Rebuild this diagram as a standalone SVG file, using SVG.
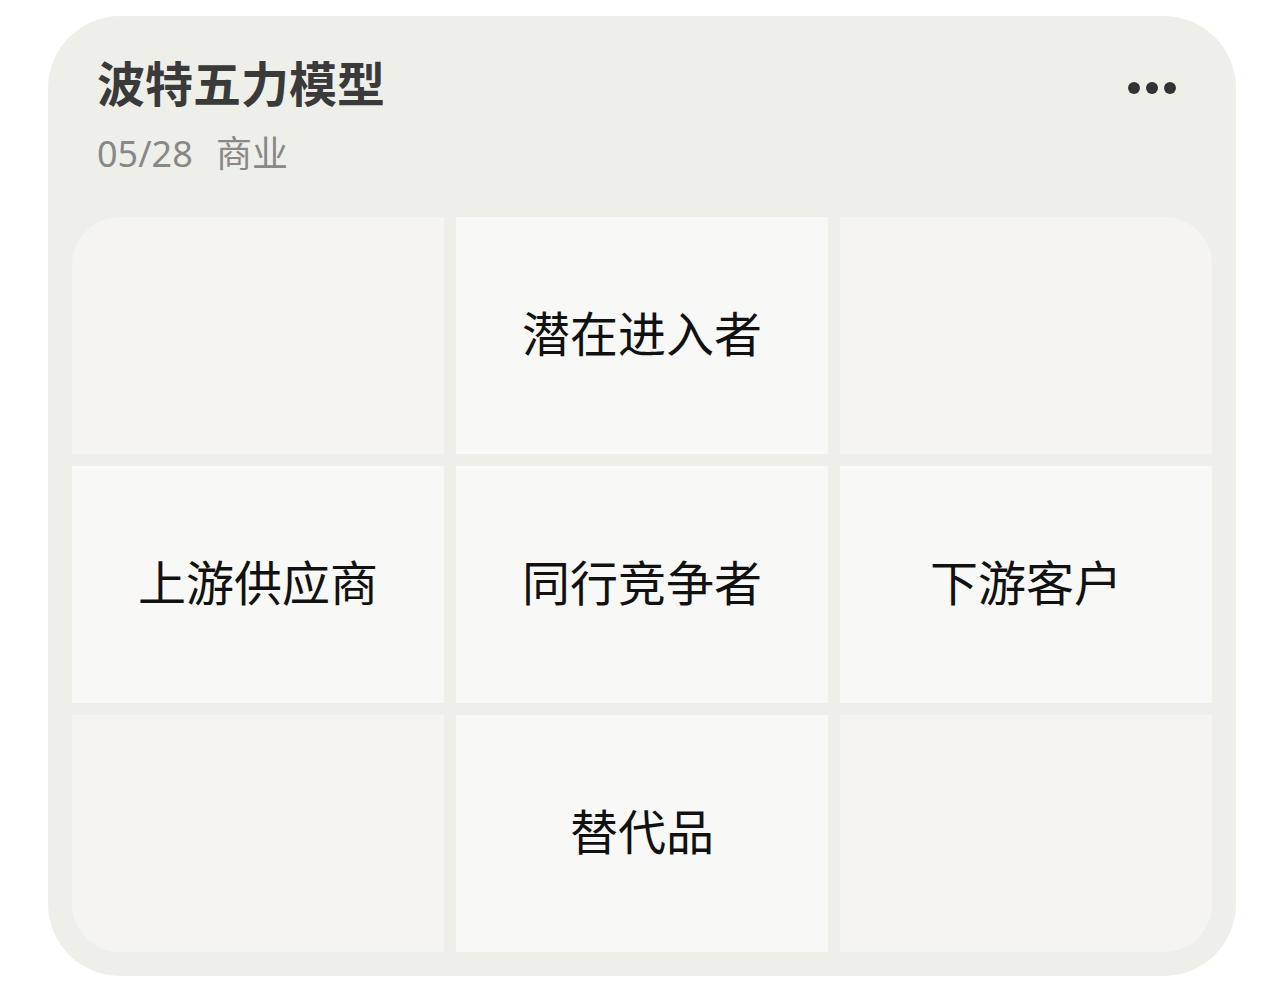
<svg xmlns="http://www.w3.org/2000/svg" width="1284" height="990" viewBox="0 0 1284 990">
<defs>
<style>
.corner{fill:#f5f4f0}
.cell{fill:#f8f8f6}
.lbl{font-family:"Noto Sans CJK SC","Noto Sans",sans-serif;font-size:48px;fill:#111;text-anchor:middle}
</style>
<clipPath id="gridclip"><rect x="72" y="217" width="1140" height="735" rx="48" ry="48"/></clipPath>
</defs>
<rect width="1284" height="990" fill="#ffffff"/>
<g id="card">
<rect x="48" y="16" width="1188" height="960" rx="72" ry="72" fill="#efefea"/>
<text x="97" y="102" font-family="'Noto Sans CJK SC','Noto Sans',sans-serif" font-size="48" font-weight="bold" fill="#3a3a3a">波特五力模型</text>
<text y="167" font-family="'Noto Sans','Noto Sans CJK SC',sans-serif" font-size="36" fill="#888888"><tspan x="97">05/28</tspan><tspan x="216">商业</tspan></text>
<g id="more" fill="#333333"><circle cx="1134" cy="88" r="6"/><circle cx="1152" cy="88" r="6"/><circle cx="1170" cy="88" r="6"/></g>
</g>
<g clip-path="url(#gridclip)">
<g id="c11"><rect class="corner" x="72" y="217" width="372" height="237"/></g>
<g id="c12"><rect class="cell" x="456" y="217" width="372" height="237"/><text class="lbl" x="642" y="352">潜在进入者</text></g>
<g id="c13"><rect class="corner" x="840" y="217" width="372" height="237"/></g>
<g id="c21"><rect class="cell" x="72" y="466" width="372" height="237"/><text class="lbl" x="258" y="601">上游供应商</text></g>
<g id="c22"><rect class="cell" x="456" y="466" width="372" height="237"/><text class="lbl" x="642" y="601">同行竞争者</text></g>
<g id="c23"><rect class="cell" x="840" y="466" width="372" height="237"/><text class="lbl" x="1026" y="601">下游客户</text></g>
<g id="c31"><rect class="corner" x="72" y="715" width="372" height="237"/></g>
<g id="c32"><rect class="cell" x="456" y="715" width="372" height="237"/><text class="lbl" x="642" y="850">替代品</text></g>
<g id="c33"><rect class="corner" x="840" y="715" width="372" height="237"/></g>
</g>
<g id="connectors"/>
</svg>
